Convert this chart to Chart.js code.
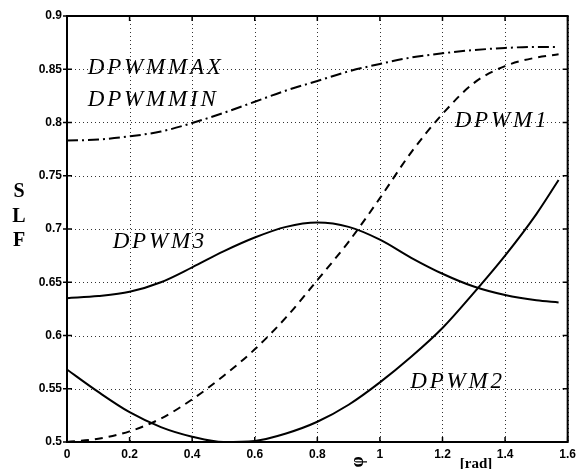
<!DOCTYPE html>
<html><head><meta charset="utf-8">
<script src="https://cdn.jsdelivr.net/npm/chart.js@4/dist/chart.umd.min.js"></script>
<style>html,body{margin:0;padding:0;background:#fff;}canvas{display:block;}</style>
</head><body>
<canvas id="c" width="581" height="469"></canvas>
<script>
// angle phi [rad]
const phi      = [0, 0.1, 0.2, 0.3, 0.4, 0.5, 0.6, 0.7, 0.8, 0.9, 1.0, 1.1, 1.2, 1.3, 1.4, 1.5, 1.571];
const dpwmMax  = [0.783, 0.784, 0.787, 0.7915, 0.7995, 0.809, 0.8195, 0.830, 0.839, 0.848, 0.855, 0.861, 0.865, 0.868, 0.870, 0.871, 0.871];
const dpwm1    = [0.500, 0.503, 0.510, 0.522, 0.540, 0.562, 0.587, 0.617, 0.652, 0.688, 0.729, 0.772, 0.808, 0.837, 0.853, 0.861, 0.864];
const dpwm3    = [0.635, 0.637, 0.641, 0.650, 0.664, 0.679, 0.692, 0.702, 0.706, 0.702, 0.690, 0.673, 0.658, 0.646, 0.638, 0.633, 0.631];
const dpwm2    = [0.568, 0.547, 0.528, 0.514, 0.505, 0.500, 0.501, 0.508, 0.519, 0.535, 0.556, 0.580, 0.607, 0.640, 0.675, 0.714, 0.746];
const xTicks   = [0, 0.2, 0.4, 0.6, 0.8, 1.0, 1.2, 1.4, 1.6];
const yTicks   = [0.5, 0.55, 0.6, 0.65, 0.7, 0.75, 0.8, 0.85, 0.9];
const curveLabels = [
  {text: 'DPWMMAX', x: 0.0665, y: 0.8455},
  {text: 'DPWMMIN', x: 0.0665, y: 0.8155},
  {text: 'DPWM1',   x: 1.239,  y: 0.7958},
  {text: 'DPWM3',   x: 0.146,  y: 0.6822},
  {text: 'DPWM2',   x: 1.097,  y: 0.5507}
];
const yTitle = ['S', 'L', 'F'];
const xTitle = 'φ';
const xUnit = '[rad]';

function pts(ys) { return phi.map((x, i) => ({x: x, y: ys[i]})); }
function fmt(v) { return String(+Number(v).toFixed(2)); }

const gridPlugin = {
  id: 'dotgrid',
  beforeDatasetsDraw(chart) {
    const ctx = chart.ctx, a = chart.chartArea;
    const xs = chart.scales.x, ys = chart.scales.y;
    ctx.save();
    ctx.strokeStyle = '#333';
    ctx.lineWidth = 1;
    ctx.setLineDash([1, 3]);
    ctx.beginPath();
    xTicks.forEach(v => {
      const px = Math.round(xs.getPixelForValue(v)) + 0.5;
      ctx.moveTo(px, a.top); ctx.lineTo(px, a.bottom);
    });
    yTicks.forEach(v => {
      const py = Math.round(ys.getPixelForValue(v)) + 0.5;
      ctx.moveTo(a.left, py); ctx.lineTo(a.right, py);
    });
    ctx.stroke();
    ctx.restore();
  }
};

const decor = {
  id: 'decor',
  afterDraw(chart) {
    const ctx = chart.ctx, a = chart.chartArea;
    const xs = chart.scales.x, ys = chart.scales.y;
    ctx.save();
    ctx.strokeStyle = '#000';
    ctx.lineWidth = 2;
    ctx.setLineDash([]);
    ctx.strokeRect(a.left, a.top, a.right - a.left, a.bottom - a.top);
    ctx.lineWidth = 1.5;
    ctx.beginPath();
    xTicks.forEach(v => {
      const px = xs.getPixelForValue(v);
      ctx.moveTo(px, a.bottom); ctx.lineTo(px, a.bottom - 5);
      ctx.moveTo(px, a.top); ctx.lineTo(px, a.top + 5);
    });
    yTicks.forEach(v => {
      const py = ys.getPixelForValue(v);
      ctx.moveTo(a.left, py); ctx.lineTo(a.left + 5, py);
      ctx.moveTo(a.right, py); ctx.lineTo(a.right - 5, py);
      ctx.moveTo(a.left, py); ctx.lineTo(a.left - 4, py);
    });
    ctx.stroke();
    ctx.fillStyle = '#000';
    ctx.font = 'italic 23px "Liberation Serif", "DejaVu Serif", serif';
    ctx.textAlign = 'left';
    ctx.textBaseline = 'alphabetic';
    try { ctx.letterSpacing = '2.8px'; } catch (e) {}
    curveLabels.forEach(l => {
      ctx.fillText(l.text, xs.getPixelForValue(l.x), ys.getPixelForValue(l.y));
    });
    try { ctx.letterSpacing = '0px'; } catch (e) {}
    ctx.font = 'bold 20px "Liberation Serif", serif';
    ctx.textAlign = 'center';
    ctx.textBaseline = 'middle';
    const midY = (a.top + a.bottom) / 2;
    yTitle.forEach((t, i) => {
      ctx.fillText(t, 19, midY - 37 + i * 24.5);
    });
    ctx.save();
    ctx.translate(358, 462);
    ctx.rotate(-Math.PI / 2);
    ctx.font = 'bold 18px "Liberation Serif", serif';
    ctx.fillText(xTitle, 0, 0);
    ctx.restore();
    ctx.font = 'bold 15px "Liberation Serif", serif';
    ctx.textAlign = 'center';
    ctx.textBaseline = 'alphabetic';
    ctx.fillText(xUnit, 476, 468);
    ctx.restore();
  }
};

new Chart(document.getElementById('c'), {
  type: 'line',
  data: {
    datasets: [
      {label: 'DPWMMAX/MIN', data: pts(dpwmMax), borderColor: '#000', borderWidth: 2, borderDash: [11, 4, 2, 4], pointRadius: 0, fill: false, cubicInterpolationMode: 'monotone'},
      {label: 'DPWM1', data: pts(dpwm1), borderColor: '#000', borderWidth: 2, borderDash: [8, 6], pointRadius: 0, fill: false, cubicInterpolationMode: 'monotone'},
      {label: 'DPWM3', data: pts(dpwm3), borderColor: '#000', borderWidth: 2, pointRadius: 0, fill: false, cubicInterpolationMode: 'monotone'},
      {label: 'DPWM2', data: pts(dpwm2), borderColor: '#000', borderWidth: 2, pointRadius: 0, fill: false, cubicInterpolationMode: 'monotone'}
    ]
  },
  options: {
    responsive: false,
    animation: false,
    devicePixelRatio: 1,
    layout: {padding: {left: 0, right: 9, top: 16, bottom: 0}},
    plugins: {legend: {display: false}, tooltip: {enabled: false}, title: {display: false}},
    scales: {
      x: {
        type: 'linear', min: 0, max: 1.6,
        afterBuildTicks: s => { s.ticks = xTicks.map(v => ({value: v})); },
        afterFit: s => { s.height = 27; },
        ticks: {callback: v => fmt(v), color: '#000', padding: 5, maxRotation: 0, autoSkip: false,
                font: {family: '"Liberation Sans", Arial, sans-serif', size: 12, weight: 'bold'}},
        grid: {display: false, drawTicks: false},
        border: {display: false}
      },
      y: {
        type: 'linear', min: 0.5, max: 0.9,
        afterBuildTicks: s => { s.ticks = yTicks.map(v => ({value: v})); },
        afterFit: s => { s.width = 67; },
        ticks: {callback: v => fmt(v), color: '#000', padding: 5, autoSkip: false,
                font: {family: '"Liberation Sans", Arial, sans-serif', size: 12, weight: 'bold'}},
        grid: {display: false, drawTicks: false},
        border: {display: false}
      }
    }
  },
  plugins: [gridPlugin, decor]
});
</script>
</body></html>
